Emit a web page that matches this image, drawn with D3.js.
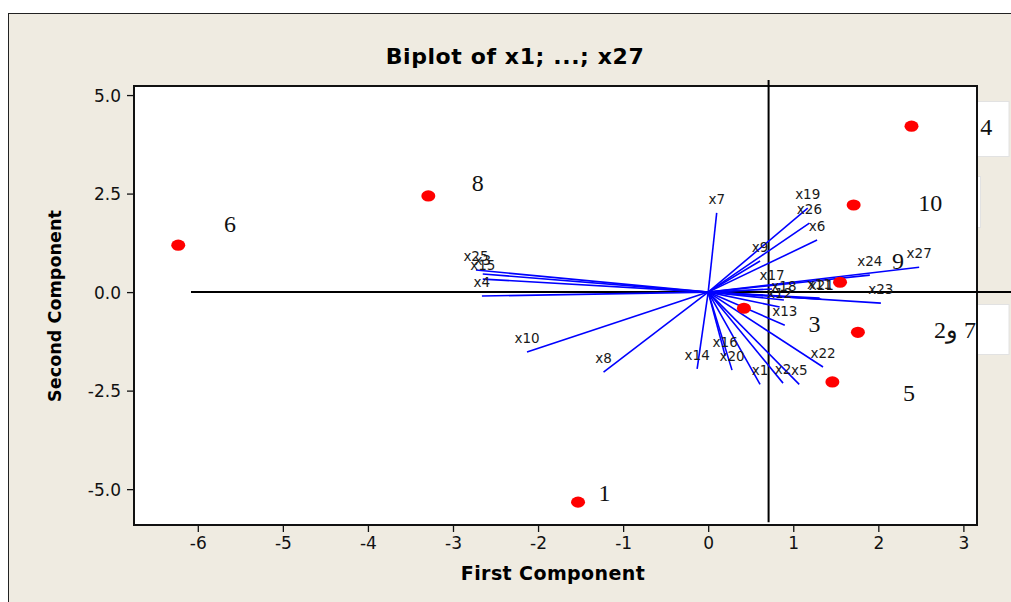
<!DOCTYPE html>
<html>
<head>
<meta charset="utf-8">
<script src="https://cdn.jsdelivr.net/npm/d3@7"></script>
<style>
  body { margin: 0; background: #fff; }
  svg { display: block; }
</style>
</head>
<body>
<div id="chart"></div>
<script>
const width = 1011, height = 602;

// loadings (variables)
const varNames = ["x1","x2","x3","x4","x5","x6","x7","x8","x9","x10","x11","x12","x13","x14",
  "x15","x16","x17","x18","x19","x20","x21","x22","x23","x24","x25","x26","x27"];
const loadX = [0.61, 0.88, -2.65, -2.66, 1.07, 1.28, 0.10, -1.23, 0.61, -2.13, 1.31, 0.84, 0.90, -0.13,
  -2.65, 0.20, 0.75, 0.89, 1.17, 0.28, 1.33, 1.35, 2.03, 1.90, -2.73, 1.19, 2.48];
const loadY = [-2.34, -2.31, 0.46, -0.10, -2.34, 1.32, 2.01, -2.03, 0.79, -1.52, -0.15, -0.38, -0.84, -1.95,
  0.33, -1.62, 0.08, -0.20, 2.13, -1.98, -0.18, -1.90, -0.28, 0.43, 0.56, 1.75, 0.63];

// scores (observations)
const obsNames = ["6", "8", "4", "10", "9", "3", "2و 7", "5", "1"];
const scoreX = [-6.23, -3.29, 2.39, 1.71, 1.55, 0.42, 1.76, 1.46, -1.53];
const scoreY = [1.19, 2.44, 4.21, 2.21, 0.25, -0.41, -1.02, -2.28, -5.33];
// where the observation numbers were written (data units)
const obsLabX = [-5.62, -2.71, 3.27, 2.61, 2.23, 1.25, 2.90, 2.36, -1.22];
const obsLabY = [1.73, 2.79, 4.19, 2.28, 0.81, -0.79, -0.96, -2.54, -5.10];

const xTicks = [-6, -5, -4, -3, -2, -1, 0, 1, 2, 3];
const yTicks = [-5, -2.5, 0, 2.5, 5];

// hand drawn reference lines (data units)
const vLine = {x: 0.71, y1: 5.38, y2: -5.84};
const hLine = {y: 0, x1: -6.08, x2: 3.56};

const svg = d3.select("#chart").append("svg")
  .attr("width", width).attr("height", height);

// outer frame
svg.append("rect").attr("x", 8.5).attr("y", 13.5)
  .attr("width", width + 10).attr("height", height)
  .attr("fill", "#efebe1").attr("stroke", "#222").attr("stroke-width", 1);

const x = d3.scaleLinear().domain([-6.75, 3.16]).range([134, 977]);
const y = d3.scaleLinear().domain([-5.91, 5.23]).range([525, 86]);

// plot area
svg.append("rect").attr("x", 134).attr("y", 86)
  .attr("width", 977 - 134).attr("height", 525 - 86)
  .attr("fill", "#fff");

// text boxes on the right edge
const boxes = [[101, 156], [176, 227], [304, 354]];
svg.append("g").selectAll("rect").data(boxes).join("rect")
  .attr("x", 977).attr("y", d => d[0] + 0.5)
  .attr("width", (d, i) => i === 1 ? 3.5 : 32).attr("height", d => d[1] - d[0])
  .attr("fill", "#fff").attr("stroke", "#e2e2e2").attr("stroke-width", 1);

// axes
const hyphen = f => d => f(d).replace("−", "-");
const xAxis = svg.append("g").attr("transform", "translate(0,525)")
  .call(d3.axisBottom(x).tickValues(xTicks).tickFormat(hyphen(d3.format("d"))).tickSize(7).tickSizeOuter(0));
const yAxis = svg.append("g").attr("transform", "translate(134,0)")
  .call(d3.axisLeft(y).tickValues(yTicks).tickFormat(hyphen(d3.format(".1f"))).tickSize(7).tickSizeOuter(0));
[xAxis, yAxis].forEach(g => {
  g.select(".domain").remove();
  g.selectAll("line").attr("stroke", "#111").attr("stroke-width", 1.3);
  g.selectAll("text").attr("fill", "#111")
    .style("font-family", "DejaVu Sans").style("font-size", "17px");
});
xAxis.selectAll("text").attr("y", 12);
yAxis.selectAll("text").attr("x", -13).attr("dy", "0.36em");

svg.append("rect").attr("x", 134).attr("y", 86)
  .attr("width", 977 - 134).attr("height", 525 - 86)
  .attr("fill", "none").attr("stroke", "#111").attr("stroke-width", 2);

// title and axis labels
svg.append("text").attr("x", 515).attr("y", 64).attr("text-anchor", "middle")
  .style("font-family", "DejaVu Sans").style("font-weight", "bold").style("font-size", "22px")
  .style("letter-spacing", "0.6px")
  .text("Biplot of x1; ...; x27");
svg.append("text").attr("x", 553).attr("y", 580).attr("text-anchor", "middle")
  .style("font-family", "DejaVu Sans").style("font-weight", "bold").style("font-size", "19px")
  .style("letter-spacing", "0.4px")
  .text("First Component");
svg.append("text").attr("transform", "translate(61,306) rotate(-90)").attr("text-anchor", "middle")
  .style("font-family", "DejaVu Sans").style("font-weight", "bold").style("font-size", "17.6px")
  .text("Second Component");

// reference lines
svg.append("line")
  .attr("x1", x(hLine.x1)).attr("x2", x(hLine.x2))
  .attr("y1", y(hLine.y)).attr("y2", y(hLine.y))
  .attr("stroke", "#000").attr("stroke-width", 2);
svg.append("line")
  .attr("x1", x(vLine.x)).attr("x2", x(vLine.x))
  .attr("y1", y(vLine.y1)).attr("y2", y(vLine.y2))
  .attr("stroke", "#000").attr("stroke-width", 2);

// loading vectors
const vecs = varNames.map((n, i) => ({name: n, vx: loadX[i], vy: loadY[i]}));
svg.append("g").selectAll("line").data(vecs).join("line")
  .attr("x1", x(0)).attr("y1", y(0))
  .attr("x2", d => x(d.vx)).attr("y2", d => y(d.vy))
  .attr("stroke", "#0000ff").attr("stroke-width", 1.6);
svg.append("g").selectAll("text").data(vecs).join("text")
  .attr("x", d => x(d.vx)).attr("y", d => y(d.vy) - 9)
  .attr("text-anchor", "middle")
  .style("font-family", "DejaVu Sans").style("font-size", "13.5px").attr("fill", "#1a1a1a")
  .text(d => d.name);

// observations
const obs = obsNames.map((n, i) => ({name: n, sx: scoreX[i], sy: scoreY[i], lx: obsLabX[i], ly: obsLabY[i]}));
svg.append("g").selectAll("ellipse").data(obs).join("ellipse")
  .attr("cx", d => x(d.sx)).attr("cy", d => y(d.sy))
  .attr("rx", 7).attr("ry", 5.6).attr("fill", "#ff0000");
svg.append("g").selectAll("text").data(obs).join("text")
  .attr("x", d => x(d.lx)).attr("y", d => y(d.ly))
  .attr("dy", "0.35em").attr("text-anchor", "middle")
  .attr("direction", "ltr").attr("unicode-bidi", "bidi-override")
  .style("font-family", "Liberation Serif").style("font-size", "24px").attr("fill", "#111")
  .text(d => d.name);
</script>
</body>
</html>
